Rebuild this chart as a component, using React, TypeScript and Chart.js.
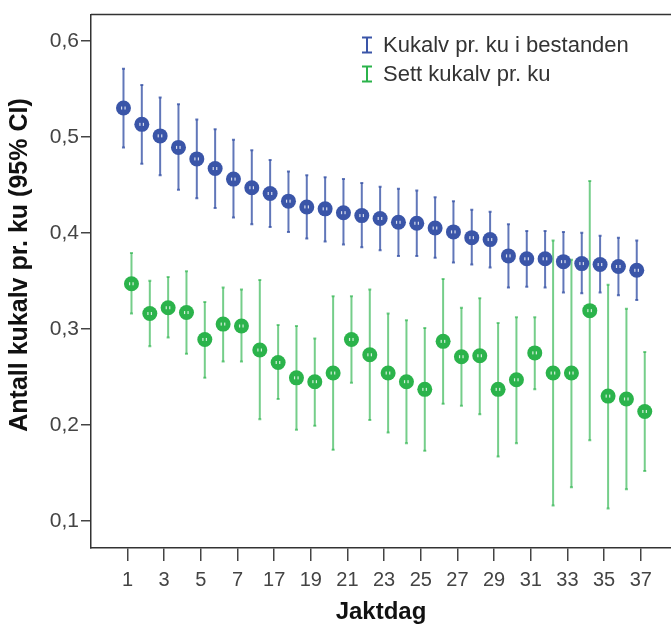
import React, { useEffect, useRef } from "react";
import { Chart, registerables } from "chart.js";

Chart.register(...registerables);

// Categories (Jaktdag)
const categories = ["1", "2", "3", "4", "5", "6", "7", "16", "17", "18", "19", "20", "21", "22", "23", "24", "25", "26", "27", "28", "29", "30", "31", "32", "33", "34", "35", "36", "37"];

// Kukalv pr. ku i bestanden (mean and 95% CI)
const bestandMean = [0.530, 0.513, 0.501, 0.489, 0.477, 0.467, 0.456, 0.447, 0.441, 0.433, 0.427, 0.425, 0.421, 0.418, 0.415, 0.411, 0.410, 0.405, 0.401, 0.395, 0.393, 0.376, 0.373, 0.373, 0.370, 0.368, 0.367, 0.365, 0.361];
const bestandLow = [0.489, 0.472, 0.460, 0.445, 0.436, 0.426, 0.416, 0.409, 0.406, 0.401, 0.394, 0.391, 0.388, 0.385, 0.382, 0.376, 0.376, 0.374, 0.369, 0.367, 0.364, 0.343, 0.344, 0.343, 0.338, 0.337, 0.338, 0.335, 0.330];
const bestandHigh = [0.571, 0.554, 0.541, 0.534, 0.518, 0.508, 0.497, 0.486, 0.476, 0.464, 0.460, 0.458, 0.456, 0.452, 0.448, 0.446, 0.444, 0.437, 0.433, 0.424, 0.422, 0.409, 0.402, 0.402, 0.401, 0.400, 0.397, 0.395, 0.392];

// Sett kukalv pr. ku (mean and 95% CI)
const settMean = [0.347, 0.316, 0.322, 0.317, 0.289, 0.305, 0.303, 0.278, 0.265, 0.249, 0.245, 0.254, 0.289, 0.273, 0.254, 0.245, 0.237, 0.287, 0.271, 0.272, 0.237, 0.247, 0.275, 0.254, 0.254, 0.319, 0.230, 0.227, 0.214];
const settLow = [0.316, 0.282, 0.291, 0.274, 0.249, 0.266, 0.266, 0.206, 0.227, 0.195, 0.199, 0.174, 0.244, 0.205, 0.192, 0.181, 0.173, 0.222, 0.220, 0.211, 0.167, 0.181, 0.237, 0.116, 0.135, 0.184, 0.113, 0.133, 0.152];
const settHigh = [0.379, 0.350, 0.354, 0.360, 0.328, 0.343, 0.341, 0.351, 0.304, 0.303, 0.290, 0.334, 0.334, 0.341, 0.316, 0.309, 0.301, 0.352, 0.322, 0.332, 0.306, 0.312, 0.312, 0.392, 0.372, 0.454, 0.346, 0.321, 0.276];

// Y axis ticks
const yTicks = [0.1, 0.2, 0.3, 0.4, 0.5, 0.6];
const yTickLabels = ["0,1", "0,2", "0,3", "0,4", "0,5", "0,6"];

const seriesNames = ["Kukalv pr. ku i bestanden", "Sett kukalv pr. ku"];
const xTitle = "Jaktdag";
const yTitle = "Antall kukalv pr. ku (95% CI)";

const BLUE = "#3a55a8";
const GREEN = "#2bb34b";
const FONT = "'Liberation Sans', Arial, sans-serif";

const offsetPlugin = {
  id: "clusterOffset",
  afterDatasetsUpdate(chart: any) {
    chart.data.datasets.forEach((ds: any, di: number) => {
      const meta = chart.getDatasetMeta(di);
      meta.data.forEach((pt: any) => {
        pt.x = pt.x + (ds.pxOffset || 0);
      });
    });
  },
};

const errorBarPlugin = {
  id: "errorBars",
  beforeDatasetsDraw(chart: any) {
    const ctx = chart.ctx;
    const ys = chart.scales.y;
    chart.data.datasets.forEach((ds: any, di: number) => {
      const meta = chart.getDatasetMeta(di);
      ctx.save();
      ctx.strokeStyle = ds.errColor;
      ctx.lineWidth = 2;
      meta.data.forEach((pt: any, i: number) => {
        const x = pt.x;
        const y1 = ys.getPixelForValue(ds.lo[i]);
        const y2 = ys.getPixelForValue(ds.hi[i]);
        ctx.beginPath();
        ctx.moveTo(x, y1);
        ctx.lineTo(x, y2);
        ctx.stroke();
        ctx.beginPath();
        ctx.moveTo(x - 1.5, y1);
        ctx.lineTo(x + 1.5, y1);
        ctx.moveTo(x - 1.5, y2);
        ctx.lineTo(x + 1.5, y2);
        ctx.stroke();
      });
      ctx.restore();
    });
  },
  afterDatasetsDraw(chart: any) {
    const ctx = chart.ctx;
    ctx.save();
    ctx.fillStyle = "rgba(255,255,255,0.8)";
    chart.data.datasets.forEach((_ds: any, di: number) => {
      const meta = chart.getDatasetMeta(di);
      meta.data.forEach((pt: any) => {
        ctx.fillRect(pt.x - 2.5, pt.y - 1.5, 1.2, 3);
        ctx.fillRect(pt.x + 1.0, pt.y - 1.5, 1.2, 3);
      });
    });
    ctx.restore();
  },
};

const decorPlugin = {
  id: "decor",
  afterDraw(chart: any) {
    const ctx = chart.ctx;
    const area = chart.chartArea;
    ctx.save();
    // top frame line
    ctx.strokeStyle = "#333";
    ctx.lineWidth = 1.5;
    ctx.beginPath();
    ctx.moveTo(area.left, area.top);
    ctx.lineTo(area.right, area.top);
    ctx.stroke();

    // legend
    const colors = [BLUE, GREEN];
    const rows = [45, 74];
    ctx.font = `22px ${FONT}`;
    ctx.textBaseline = "middle";
    ctx.textAlign = "left";
    rows.forEach((cy, k) => {
      const ix = 367;
      ctx.strokeStyle = colors[k];
      ctx.lineWidth = 2;
      ctx.beginPath();
      ctx.moveTo(ix, cy - 7.5);
      ctx.lineTo(ix, cy + 7.5);
      ctx.moveTo(ix - 5, cy - 7.5);
      ctx.lineTo(ix + 5, cy - 7.5);
      ctx.moveTo(ix - 5, cy + 7.5);
      ctx.lineTo(ix + 5, cy + 7.5);
      ctx.stroke();
      ctx.fillStyle = "#333";
      ctx.fillText(seriesNames[k], 383, cy + 1);
    });

    // y title
    ctx.fillStyle = "#111";
    ctx.font = `bold 25px ${FONT}`;
    ctx.textAlign = "center";
    ctx.textBaseline = "middle";
    ctx.translate(20, 265);
    ctx.rotate(-Math.PI / 2);
    ctx.fillText(yTitle, 0, 0);
    ctx.restore();
  },
};

export default function App() {
  const ref = useRef<HTMLCanvasElement | null>(null);

  useEffect(() => {
    document.body.style.margin = "0";
    const canvas = ref.current;
    if (!canvas) return;
    const chart = new Chart(canvas, {
      type: "scatter",
      data: {
        datasets: [
          {
            label: seriesNames[0],
            data: bestandMean.map((v, i) => ({ x: i, y: v })),
            backgroundColor: BLUE,
            borderColor: BLUE,
            pointRadius: 7.5,
            pointBorderWidth: 0,
            pxOffset: -4,
            lo: bestandLow,
            hi: bestandHigh,
            errColor: "rgba(58,85,168,0.8)",
          } as any,
          {
            label: seriesNames[1],
            data: settMean.map((v, i) => ({ x: i, y: v })),
            backgroundColor: GREEN,
            borderColor: GREEN,
            pointRadius: 7.5,
            pointBorderWidth: 0,
            pxOffset: 4,
            lo: settLow,
            hi: settHigh,
            errColor: "rgba(43,179,75,0.65)",
          } as any,
        ],
      },
      options: {
        animation: false,
        responsive: false,
        devicePixelRatio: 1,
        layout: { autoPadding: false, padding: { top: 13, left: 0, right: 0, bottom: 0 } },
        plugins: {
          legend: { display: false },
          tooltip: { enabled: false },
        },
        scales: {
          x: {
            type: "linear",
            min: -1.99,
            max: 29.65,
            afterFit(s: any) {
              s.height = 79;
              s.paddingLeft = 0;
              s.paddingRight = 0;
            },
            afterBuildTicks(s: any) {
              s.ticks = categories
                .map((_c, i) => i)
                .filter((i) => i % 2 === 0)
                .map((v) => ({ value: v }));
            },
            ticks: {
              callback: (v: any) => categories[v as number],
              font: { family: FONT, size: 20 },
              color: "#444",
              padding: 7,
              maxRotation: 0,
              autoSkip: false,
            },
            grid: {
              drawOnChartArea: false,
              drawTicks: true,
              tickLength: 13,
              color: "#444",
              lineWidth: 1.5,
            },
            border: { display: true, color: "#333", width: 1.5 },
            title: {
              display: true,
              text: xTitle,
              color: "#111",
              font: { family: FONT, size: 24, weight: "bold" },
              padding: { top: 0, bottom: 0 },
            },
          },
          y: {
            type: "linear",
            min: 0.0718,
            max: 0.6273,
            afterFit(s: any) {
              s.width = 91;
            },
            afterBuildTicks(s: any) {
              s.ticks = yTicks.map((v) => ({ value: v }));
            },
            ticks: {
              callback: (_v: any, idx: number) => yTickLabels[idx],
              font: { family: FONT, size: 21 },
              color: "#444",
              padding: 2,
            },
            grid: {
              drawOnChartArea: false,
              drawTicks: true,
              tickLength: 10,
              color: "#444",
              lineWidth: 1.5,
            },
            border: { display: true, color: "#333", width: 1.5 },
          },
        },
      } as any,
      plugins: [offsetPlugin, errorBarPlugin, decorPlugin],
    });
    return () => chart.destroy();
  }, []);

  return (
    <div>
      <canvas ref={ref} width={671} height={627} style={{ display: "block" }} />
    </div>
  );
}
